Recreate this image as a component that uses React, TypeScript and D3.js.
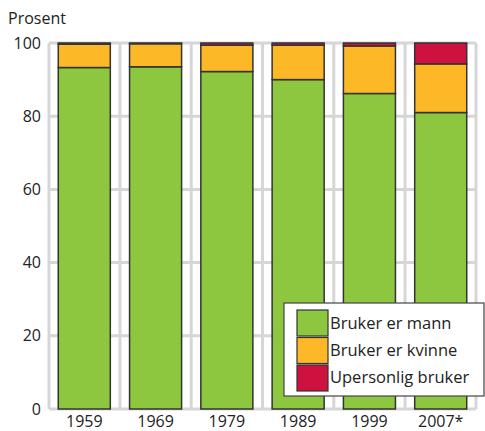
import React from "react";
import * as d3 from "d3";

const years = ["1959", "1969", "1979", "1989", "1999", "2007*"];
const mann = [93.3, 93.5, 92.2, 90.0, 86.2, 81.0];
const kvinne = [6.4, 6.3, 7.2, 9.4, 13.0, 13.3];
const upersonlig = [0.3, 0.2, 0.6, 0.6, 0.8, 5.7];
const yTicks = [0, 20, 40, 60, 80, 100];

const seriesNames = ["Bruker er mann", "Bruker er kvinne", "Upersonlig bruker"];
const colors = ["#8dc63f", "#fdb827", "#cf1140"];

const App = () => {
  const width = 485;
  const height = 431;
  const left = 49;
  const right = 476;
  const top = 43;
  const bottom = 409;

  const x = d3.scaleBand().domain(years).range([left, right]).paddingInner(0.27).paddingOuter(0.13);
  const y = d3.scaleLinear().domain([0, 100]).range([bottom, top]);

  const rows = years.map((yr, i) => ({ year: yr, mann: mann[i], kvinne: kvinne[i], upersonlig: upersonlig[i] }));
  const stack = d3.stack().keys(["mann", "kvinne", "upersonlig"]);
  const layers = stack(rows as any);

  // vertical gridlines halfway between bars
  const step = x.step();
  const vLines = [left, ...years.slice(1).map((yr) => (x(yr) as number) - (step - x.bandwidth()) / 2), right];

  const font = "'Open Sans', 'Noto Sans', sans-serif";

  return (
    <svg width={width} height={height} style={{ position: "absolute", left: 0, top: 0, display: "block" }} fontFamily={font}>
      <text x={8} y={24} fontSize={16} fill="#222">Prosent</text>
      {/* grid */}
      {yTicks.map((t) => (
        <line key={"h" + t} x1={left} x2={right} y1={y(t)} y2={y(t)} stroke="#d6d6d6" strokeWidth={3} />
      ))}
      {vLines.map((v, i) => (
        <line key={"v" + i} x1={v} x2={v} y1={top} y2={bottom} stroke="#d6d6d6" strokeWidth={3} />
      ))}
      {yTicks.map((t) => (
        <text key={"t" + t} x={41} y={y(t)} dy="0.35em" textAnchor="end" fontSize={16} fill="#222">{t}</text>
      ))}
      {/* bars */}
      {layers.map((layer, li) =>
        layer.map((d, i) => (
          <rect
            key={li + "-" + i}
            x={x(years[i])}
            y={y(d[1])}
            width={x.bandwidth()}
            height={y(d[0]) - y(d[1])}
            fill={colors[li]}
            stroke="#333"
            strokeWidth={1.5}
          />
        ))
      )}
      {years.map((yr) => (
        <text key={yr} x={(x(yr) as number) + x.bandwidth() / 2} y={427} textAnchor="middle" fontSize={16} fill="#222">{yr}</text>
      ))}
      {/* legend */}
      <rect x={284} y={303} width={200} height={93} fill="#fff" stroke="#444" strokeWidth={1.2} />
      {seriesNames.map((n, i) => (
        <g key={n}>
          <rect x={297} y={310 + i * 27.5} width={31} height={26} fill={colors[i]} stroke="#333" strokeWidth={1.2} />
          <text x={330} y={329 + i * 27} fontSize={16.5} fill="#222">{n}</text>
        </g>
      ))}
    </svg>
  );
};

export default App;
